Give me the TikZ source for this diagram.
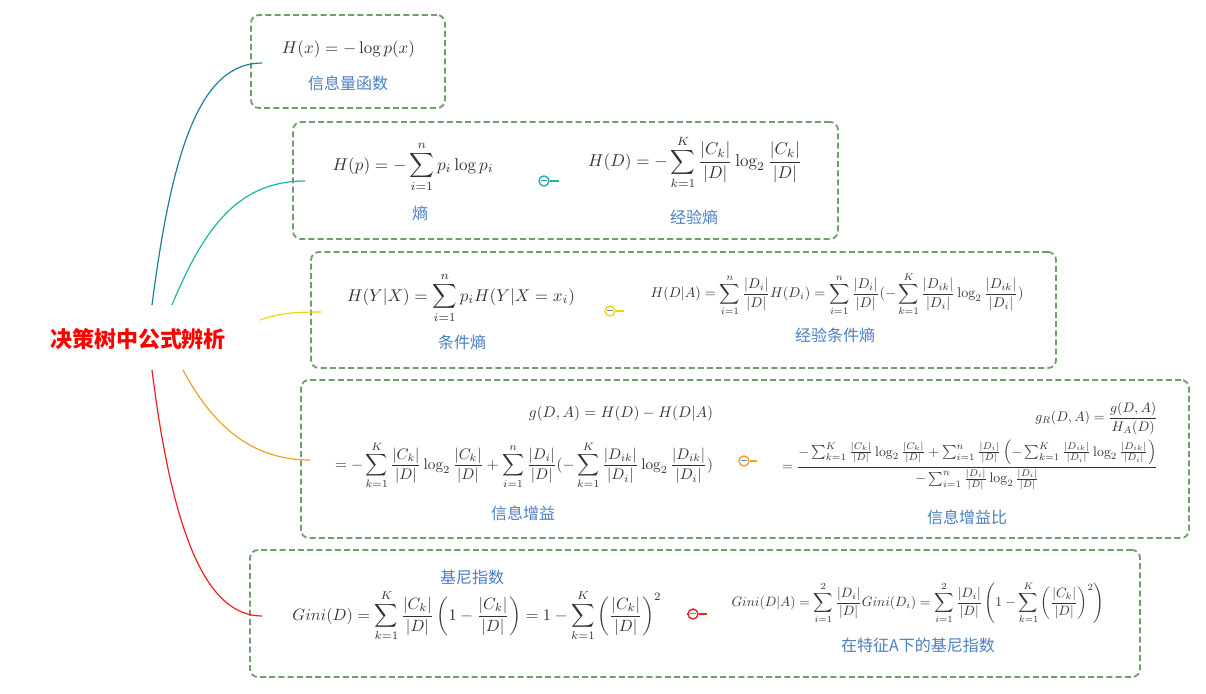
\documentclass[tikz,border=0pt]{standalone}
\usepackage{amsmath}
\usepackage{graphicx}
\usepackage{fontspec}
\newfontfamily\cjk{Noto Sans CJK SC}
\definecolor{boxgreen}{HTML}{6E9E6A}
\definecolor{lblue}{HTML}{4A7FC1}
\definecolor{cA}{HTML}{1B7F9B}
\definecolor{cB}{HTML}{1DB5A5}
\definecolor{cC}{HTML}{F2D600}
\definecolor{cD}{HTML}{F5A020}
\definecolor{cE}{HTML}{F02020}
\definecolor{ftext}{HTML}{333333}
\definecolor{minusc}{HTML}{6A8AB0}
\tikzset{
  box/.style={draw=boxgreen, line width=0.9pt, dash pattern=on 3pt off 1.6pt, rounded corners=4pt, inner sep=0pt},
  lbl/.style={text=lblue, font=\fontsize{8}{10}\selectfont\cjk, inner sep=0pt},
  fml/.style={text=ftext, inner sep=0pt},
  link/.style={line width=0.6pt},
  fold/.style={circle, line width=0.7pt, inner sep=0pt, minimum size=5pt, fill=white},
}
\newcommand{\fw}[2]{\resizebox{#1}{!}{$\displaystyle #2$}}
\begin{document}
\begin{tikzpicture}[x=0.5pt,y=-0.5pt]
\useasboundingbox (0,0) rectangle (1206,694);

% boxes
\node[box, minimum width=97pt, minimum height=46.5pt] (b1) at (348,61.5) {};
\node[box, minimum width=272.5pt, minimum height=58.5pt] (b2) at (565.5,180.5) {};
\node[box, minimum width=372.5pt, minimum height=58pt] (b3) at (683.5,310) {};
\node[box, minimum width=444pt, minimum height=79pt] (b4) at (745,459) {};
\node[box, minimum width=445pt, minimum height=63.5pt] (b5) at (695,613.5) {};

% root
\node[text=red, font=\fontsize{11}{13}\selectfont\cjk\bfseries, inner sep=0pt] (root) at (138,339) {决策树中公式辨析};

% box 1
\node[fml] (f1) at (348.5,49) {\fw{66.5pt}{H(x)=-\log p(x)}};
\node[lbl] (l1) at (348,83) {信息量函数};

% box 2
\node[fml] (f2a) at (413,167) {\fw{80.5pt}{H(p)=-\sum_{i=1}^{n}p_i\log p_i}};
\node[lbl] (l2a) at (420,213) {熵};
\node[fml] (f2b) at (695,162) {\fw{107pt}{H(D)=-\sum_{k=1}^{K}\frac{|C_k|}{|D|}\log_2\frac{|C_k|}{|D|}}};
\node[lbl] (l2b) at (694,217) {经验熵};

% box 3
\node[fml] (f3a) at (461,298) {\fw{114pt}{H(Y|X)=\sum_{i=1}^{n}p_iH(Y|X=x_i)}};
\node[lbl] (l3a) at (462,342) {条件熵};
\node[fml] (f3b) at (837,294) {\fw{186.5pt}{H(D|A)=\sum_{i=1}^{n}\frac{|D_i|}{|D|}H(D_i)=\sum_{i=1}^{n}\frac{|D_i|}{|D|}(-\sum_{k=1}^{K}\frac{|D_{ik}|}{|D_i|}\log_2\frac{|D_{ik}|}{|D_i|})}};
\node[lbl] (l3b) at (835,335) {经验条件熵};

% box 4
\node[fml] (f4a) at (524,447) {\fw{189pt}{\begin{aligned}g(D,A)=H(D)-H(D|A)\\[8pt]
=-\sum_{k=1}^{K}\frac{|C_k|}{|D|}\log_2\frac{|C_k|}{|D|}+\sum_{i=1}^{n}\frac{|D_i|}{|D|}(-\sum_{k=1}^{K}\frac{|D_{ik}|}{|D_i|}\log_2\frac{|D_{ik}|}{|D_i|})\end{aligned}}};
\node[lbl] (l4a) at (523,513) {信息增益};
\node[fml] (f4b) at (970,446) {\fw{188pt}{\begin{aligned}g_R(D,A)=\frac{g(D,A)}{H_A(D)}\\
=\frac{-\sum_{k=1}^{K}\frac{|C_k|}{|D|}\log_2\frac{|C_k|}{|D|}+\sum_{i=1}^{n}\frac{|D_i|}{|D|}\left(-\sum_{k=1}^{K}\frac{|D_{ik}|}{|D_i|}\log_2\frac{|D_{ik}|}{|D_i|}\right)}{-\sum_{i=1}^{n}\frac{|D_i|}{|D|}\log_2\frac{|D_i|}{|D|}}\end{aligned}}};
\node[lbl] (l4b) at (967,517) {信息增益比};

% box 5
\node[lbl] (l5a) at (472,577) {基尼指数};
\node[fml] (f5a) at (477,616) {\fw{184.5pt}{Gini(D)=\sum_{k=1}^{K}\frac{|C_k|}{|D|}\left(1-\frac{|C_k|}{|D|}\right)=1-\sum_{k=1}^{K}\left(\frac{|C_k|}{|D|}\right)^2}};
\node[fml] (f5b) at (918,603) {\fw{186.5pt}{Gini(D|A)=\sum_{i=1}^{2}\frac{|D_i|}{|D|}Gini(D_i)=\sum_{i=1}^{2}\frac{|D_i|}{|D|}\left(1-\sum_{k=1}^{K}\left(\frac{|C_k|}{|D|}\right)^2\right)}};
\node[lbl] (l5b) at (918,645) {在特征A下的基尼指数};

% connector end points
\coordinate (r1) at (152,305);
\coordinate (r2) at (172,305);
\coordinate (r3) at (260,320);
\coordinate (r4) at (183,370);
\coordinate (r5) at (152,370);
\coordinate (e1) at (262,63);
\coordinate (e2) at (305,181);
\coordinate (e3) at (321,312);
\coordinate (e4) at (310,460);
\coordinate (e5) at (262,616);

\draw[link, cA] (r1) .. controls (172,150) and (200,63) .. (e1);
\draw[link, cB] (r2) .. controls (205,225) and (240,181) .. (e2);
\draw[link, cC] (r3) .. controls (280,313) and (295,312) .. (e3);
\draw[link, cD] (r4) .. controls (215,430) and (255,460) .. (e4);
\draw[link, cE] (r5) .. controls (172,530) and (205,616) .. (e5);

% fold markers
\coordinate (k2) at (559,181);
\coordinate (k3) at (624,311);
\coordinate (k4) at (757,461);
\coordinate (k5) at (707,614);
\coordinate (k5w) at (687,614);
\node[fold, draw=cB] (c2) at (544,181) {};
\node[fold, draw=cC] (c3) at (610,311) {};
\node[fold, draw=cD] (c4) at (744,461) {};
\node[fold, draw=cE] (c5) at (693,614) {};
\draw[link, cB] (c2) -- (k2);
\draw[link, cC] (c3) -- (k3);
\draw[link, cD] (c4) -- (k4);
\draw[link, cE] (c5) -- (k5);
\draw[link, cE] (k5w) -- (c5);
\foreach \c in {c2,c3,c4,c5}
  \draw[minusc, line width=0.5pt] ([xshift=-1.3pt]\c.center) -- ([xshift=1.3pt]\c.center);
\end{tikzpicture}
\end{document}
